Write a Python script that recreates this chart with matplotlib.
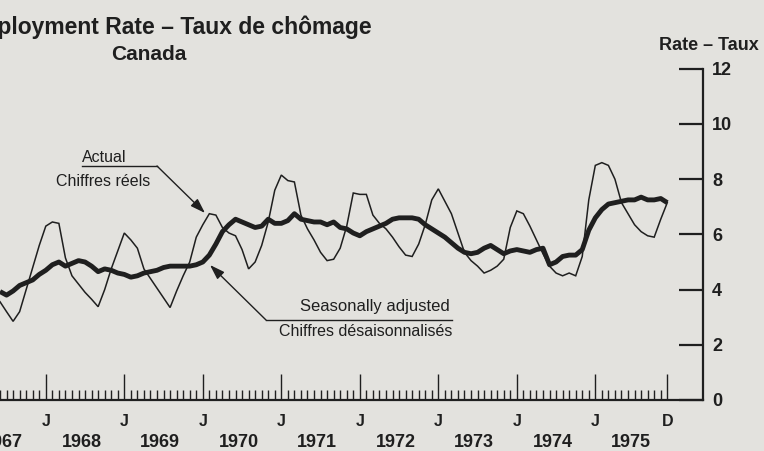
import numpy as np
import matplotlib
matplotlib.use("Agg")
import matplotlib.pyplot as plt
from matplotlib.lines import Line2D
from matplotlib.transforms import IdentityTransform

plt.rcParams['font.family'] = ['Liberation Sans', 'DejaVu Sans']

# ---- data (monthly, June 1967 .. December 1975) ----
start_month_index = 5          # months after January 1967
actual = [3.56, 3.2, 2.85, 3.2, 4.0, 4.8, 5.6,
          6.3, 6.45, 6.4, 5.15, 4.5, 4.2, 3.9, 3.65, 3.38, 4.0, 4.75, 5.4,
          6.05, 5.8, 5.5, 4.75, 4.4, 4.05, 3.7, 3.35, 3.95, 4.5, 5.0, 5.9,
          6.35, 6.75, 6.7, 6.25, 6.05, 5.95, 5.45, 4.75, 5.0, 5.6, 6.45, 7.6,
          8.15, 7.95, 7.9, 6.7, 6.2, 5.8, 5.35, 5.05, 5.1, 5.5, 6.3, 7.5,
          7.45, 7.45, 6.7, 6.4, 6.2, 5.9, 5.55, 5.25, 5.2, 5.65, 6.35, 7.25,
          7.65, 7.2, 6.75, 6.05, 5.35, 5.05, 4.85, 4.6, 4.7, 4.85, 5.1, 6.25,
          6.85, 6.75, 6.3, 5.8, 5.3, 4.85, 4.6, 4.5, 4.6, 4.5, 5.2, 7.25,
          8.5, 8.6, 8.5, 8.0, 7.15, 6.75, 6.35, 6.1, 5.95, 5.9, 6.55, 7.15]
seasonally_adjusted = [3.93, 3.8, 3.95, 4.15, 4.25, 4.35, 4.55,
          4.7, 4.9, 5.0, 4.85, 4.95, 5.05, 5.0, 4.85, 4.65, 4.75, 4.7, 4.6,
          4.55, 4.45, 4.5, 4.6, 4.65, 4.7, 4.8, 4.85, 4.85, 4.85, 4.85, 4.9,
          5.0, 5.25, 5.65, 6.1, 6.35, 6.55, 6.45, 6.35, 6.25, 6.3, 6.55, 6.4,
          6.4, 6.5, 6.75, 6.55, 6.5, 6.45, 6.45, 6.35, 6.45, 6.25, 6.2, 6.05,
          5.95, 6.1, 6.2, 6.3, 6.4, 6.55, 6.6, 6.6, 6.6, 6.55, 6.35, 6.2,
          6.05, 5.9, 5.7, 5.5, 5.35, 5.3, 5.35, 5.5, 5.6, 5.45, 5.3, 5.4,
          5.45, 5.4, 5.35, 5.45, 5.5, 4.9, 5.0, 5.2, 5.25, 5.25, 5.45, 6.15,
          6.6, 6.9, 7.1, 7.15, 7.2, 7.25, 7.25, 7.35, 7.25, 7.25, 7.3, 7.15]
years = [1967, 1968, 1969, 1970, 1971, 1972, 1973, 1974, 1975]
month_labels = ['J', 'J', 'J', 'J', 'J', 'J', 'J', 'J', 'D']
month_label_index = [12, 24, 36, 48, 60, 72, 84, 96, 107]
y_ticks = [0, 2, 4, 6, 8, 10, 12]

ink = '#1f1f1f'
paper = '#e3e2de'

fig = plt.figure(figsize=(7.64, 4.51), dpi=100, facecolor=paper)
ax = fig.add_axes([0, 51/451, 703/764, 331.2/451])
ax.patch.set_alpha(0)

x = np.arange(start_month_index, start_month_index + len(actual))
ax.plot(x, actual, color=ink, lw=1.1, solid_joinstyle='miter')
ax.plot(x, seasonally_adjusted, color=ink, lw=3.5, solid_joinstyle='round',
        solid_capstyle='butt')

ax.set_xlim(5.13, 112.46)
ax.set_ylim(0, 12)

for s in ['left', 'top']:
    ax.spines[s].set_visible(False)
for s in ['right', 'bottom']:
    ax.spines[s].set_linewidth(1.6)
    ax.spines[s].set_color(ink)

ax.yaxis.tick_right()
ax.set_yticks(y_ticks)
ax.set_yticklabels([str(v) for v in y_ticks], fontsize=13, fontweight='bold', color=ink)
ax.tick_params(axis='y', direction='in', length=17, width=1.6, pad=6.5, colors=ink)

ax.set_xticks(month_label_index)
ax.set_xticklabels([])
ax.set_xticks(np.arange(start_month_index, 108), minor=True)
ax.tick_params(axis='x', which='major', direction='in', length=19, width=1.0, color=ink)
ax.tick_params(axis='x', which='minor', direction='in', length=7.5, width=1.0, color=ink)

xtr = ax.get_xaxis_transform()
for m, lab in zip(month_label_index, month_labels):
    ax.text(m, -0.066, lab, transform=xtr, ha='center', va='center',
            fontsize=11.5, fontweight='bold', color=ink, clip_on=False)
for k, yr in enumerate(years):
    ax.text(12 * k + 5.5, -0.127, str(yr), transform=xtr, ha='center', va='center',
            fontsize=13, fontweight='bold', color=ink, clip_on=False)

# titles (figure pixel coordinates, origin top-left converted)
H = 451
fig.text(372/764, 1 - 27/H, 'Unemployment Rate – Taux de chômage', ha='right', va='center',
         fontsize=16.5, fontweight='bold', color=ink)
fig.text(149/764, 1 - 55/H, 'Canada', ha='center', va='center',
         fontsize=15, fontweight='bold', color=ink)
fig.text(759/764, 1 - 45/H, 'Rate – Taux', ha='right', va='center',
         fontsize=13, fontweight='bold', color=ink)

# annotations
def P(px, py):
    return (px, H - py)

idt = IdentityTransform()
fig.text(104/764, 1 - 158/H, 'Actual', ha='center', va='center', fontsize=11.5, color=ink)
fig.text(103/764, 1 - 182/H, 'Chiffres réels', ha='center', va='center', fontsize=11.5, color=ink)
fig.add_artist(Line2D([P(82, 166)[0], P(157, 166)[0]], [P(82, 166)[1], P(157, 166)[1]],
                      transform=idt, color=ink, lw=1.0))
ax.annotate('', xy=P(205, 213), xycoords='figure pixels', xytext=P(157, 166),
            textcoords='figure pixels',
            arrowprops=dict(arrowstyle='-|>,head_length=0.9,head_width=0.3', lw=1.0,
                            color=ink, shrinkA=0, shrinkB=0))

fig.text(450/764, 1 - 307/H, 'Seasonally adjusted', ha='right', va='center', fontsize=12, color=ink)
fig.text(452/764, 1 - 331/H, 'Chiffres désaisonnalisés', ha='right', va='center', fontsize=11.5, color=ink)
fig.add_artist(Line2D([P(266, 320)[0], P(452, 320)[0]], [P(266, 320)[1], P(452, 320)[1]],
                      transform=idt, color=ink, lw=1.0))
ax.annotate('', xy=P(210, 265), xycoords='figure pixels', xytext=P(266, 320),
            textcoords='figure pixels',
            arrowprops=dict(arrowstyle='-|>,head_length=0.9,head_width=0.3', lw=1.0,
                            color=ink, shrinkA=0, shrinkB=0))

fig.savefig('out.png', dpi=100, facecolor=paper)
